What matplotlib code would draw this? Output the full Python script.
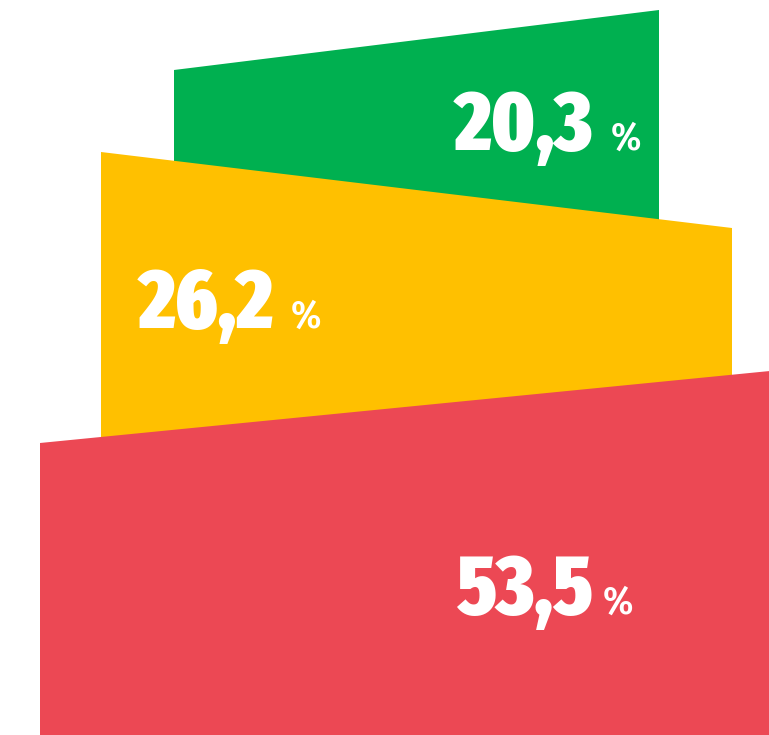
import matplotlib.pyplot as plt
from matplotlib.patches import Polygon

# data
labels = ["20,3", "26,2", "53,5"]
values = [20.3, 26.2, 53.5]
colors = ["#00B050", "#FFC000", "#EC4854"]

# layout (pixel canvas, y down): slanted blocks, drawn back to front
# (x_left, x_right, y_top_left, y_top_right, y_bottom)
blocks = [
    (174, 659, 70, 10, 240),
    (101, 732, 152, 228, 460),
    (40, 780, 443, 370, 740),
]
# text anchors (x of number, x of %, baseline y)
text_pos = [
    (455, 611, 150),
    (139, 291, 328),
    (456, 603, 614),
]

fig = plt.figure(figsize=(7.69, 7.35), dpi=100)
ax = fig.add_axes([0, 0, 1, 1])
ax.set_xlim(0, 769)
ax.set_ylim(735, 0)
ax.axis("off")

for (xl, xr, ytl, ytr, yb), c in zip(blocks, colors):
    ax.add_patch(Polygon([(xl, ytl), (xr, ytr), (xr, yb), (xl, yb)],
                         closed=True, facecolor=c, edgecolor="none"))

num_font = ["Fira Sans Extra Condensed", "Roboto Condensed", "DejaVu Sans"]
pct_font = ["Fira Sans Condensed", "Roboto Condensed", "DejaVu Sans"]
for lab, (xn, xp, yb) in zip(labels, text_pos):
    ax.text(xn, yb, lab, color="white", fontsize=61, fontweight=900,
            family=num_font, ha="left", va="baseline")
    ax.text(xp, yb, "%", color="white", fontsize=28, fontweight=600,
            family=pct_font, ha="left", va="baseline")

plt.savefig("out.png", dpi=100)
